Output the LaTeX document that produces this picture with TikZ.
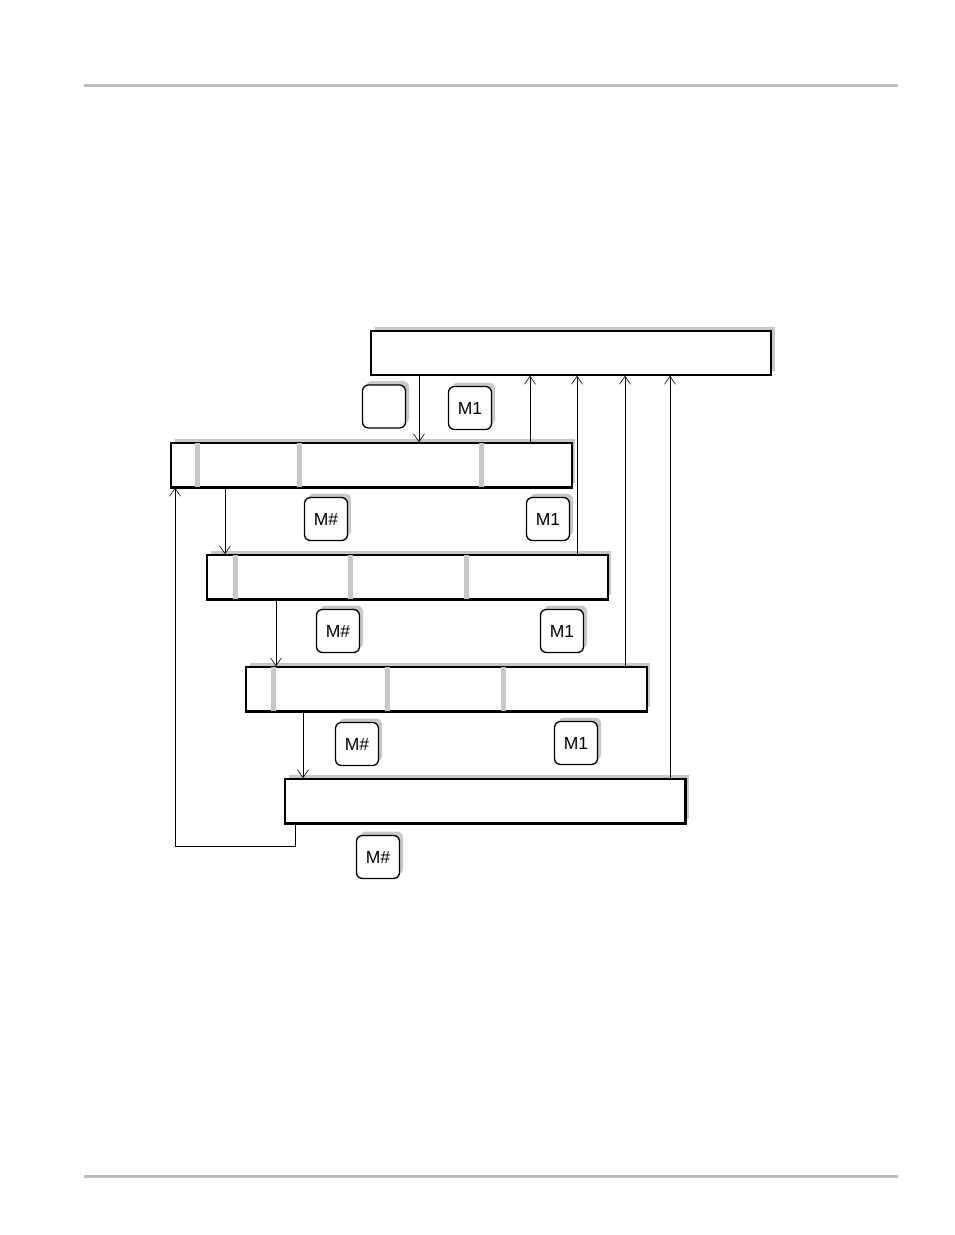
\documentclass[tikz,border=0pt]{standalone}
\usepackage{fontspec}
\setmainfont{Liberation Sans}
\usetikzlibrary{arrows.meta,shadows}
\definecolor{rulegray}{RGB}{189,189,193}
\definecolor{bargray}{RGB}{200,200,200}
\tikzset{
	shade box/.style={drop shadow={shadow xshift=3.5pt,shadow yshift=4pt,fill=bargray,opacity=1}},
	stage/.style={draw,fill=white,line width=1.5pt,shade box,minimum width=400pt,minimum height=44pt,inner sep=0pt},
	tag/.style={draw,fill=white,line width=1.3pt,rounded corners=6pt,shade box,minimum width=43pt,minimum height=43pt,inner sep=0pt,font=\fontsize{17.5}{20}\selectfont},
	divider/.style={bargray,line width=5pt},
	link/.style={line width=0.8pt,-{Straight Barb[length=8pt,width=11pt,line width=0.6pt]}}
}
\begin{document}
\begin{tikzpicture}[x=1pt,y=-1pt]
	\useasboundingbox (0,0) rectangle (954,1235);
	% page rules
	\draw[rulegray,line width=3pt] (84,85) -- (898,85);
	\draw[rulegray,line width=3pt] (84,1176) -- (898,1176);
	% stages
	\node[stage] (T) at (571,353) {};
	\node[stage] (A) at (371.5,465) {};
	\node[stage] (B) at (407.5,577) {};
	\node[stage] (C) at (446.5,689) {};
	\node[stage] (D) at (485,801) {};
	% grey separators inside the stages
	\foreach \x/\n in {197/A,299/A,481/A,235/B,350/B,466/B,273/C,387/C,503/C}
		\draw[divider] (\x,0 |- \n.north) -- (\x,0 |- \n.south);
	\foreach \n in {A,B,C,D} \draw[line width=1.5pt] (\n.north west) rectangle (\n.south east);
	% tags
	\node[tag] (e0) at (384,406.5) {};
	\node[tag] (t1) at (470,408) {M1};
	\node[tag] (a0) at (326,519) {M\#};
	\node[tag] (a1) at (548,519) {M1};
	\node[tag] (b0) at (338,631) {M\#};
	\node[tag] (b1) at (562,631) {M1};
	\node[tag] (c0) at (357,744) {M\#};
	\node[tag] (c1) at (576,743) {M1};
	\node[tag] (d0) at (378,857) {M\#};
	% down the chain
	\foreach \x/\s/\t in {419/T/A,225/A/B,276/B/C,303/C/D}
		\draw[link] (\x,0 |- \s.south) -- (\x,0 |- \t.north);
	% back up to the top stage
	\foreach \x/\s in {530/A,577/B,625/C,670/D}
		\draw[link] (\x,0 |- \s.north) -- (\x,0 |- T.south);
	% loop back
	\draw[link] (295,0 |- D.south) -- (295,846) -- (175,846) -- (175,0 |- A.south);
\end{tikzpicture}
\end{document}
